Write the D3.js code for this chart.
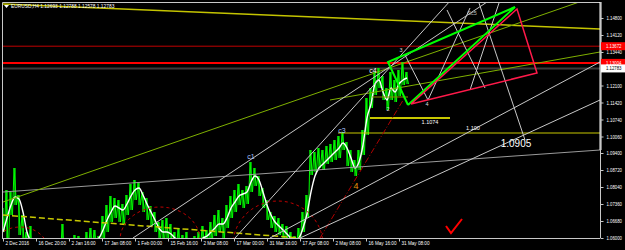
<!DOCTYPE html>
<html>
<head>
<meta charset="utf-8">
<script src="https://cdn.jsdelivr.net/npm/d3@7"></script>
<style>
  body { margin: 0; background: #000; }
  svg { display: block; font-family: "Liberation Sans", Arial, sans-serif; }
</style>
</head>
<body>
<svg id="chart" width="625" height="250"></svg>
<script>
// samples are taken every 8 H4 bars
const step = 8;
const highs = [1.0720,1.0792,1.0784,1.0880,1.0772,1.0692,1.0624,1.0648,1.0592,1.0560,
  1.0552,1.0544,1.0560,1.0552,1.0584,1.0656,1.0600,1.0572,1.0612,1.0608,
  1.0592,1.0624,1.0640,1.0632,1.0608,1.0688,1.0732,1.0768,1.0760,1.0752,
  1.0736,1.0772,1.0816,1.0832,1.0824,1.0784,1.0760,1.0728,1.0704,1.0664,
  1.0672,1.0680,1.0656,1.0624,1.0640,1.0612,1.0624,1.0600,1.0608,1.0624,
  1.0648,1.0632,1.0664,1.0692,1.0712,1.0680,1.0732,1.0768,1.0792,1.0816,
  1.0792,1.0808,1.0904,1.0880,1.0848,1.0800,1.0752,1.0704,1.0688,1.0680,
  1.0656,1.0648,1.0624,1.0608,1.0640,1.0704,1.0772,1.0952,1.0944,1.0960,
  1.0952,1.0968,1.0976,1.0992,1.1008,1.1024,1.0984,1.0952,1.0912,1.0952,
  1.1032,1.1160,1.1200,1.1264,1.1280,1.1248,1.1200,1.1264,1.1232,1.1272,
  1.1304,1.1264];
const lows = [1.0624,1.0530,1.0692,1.0732,1.0612,1.0572,1.0472,1.0504,1.0492,1.0472,
  1.0452,1.0464,1.0472,1.0452,1.0492,1.0532,1.0504,1.0472,1.0512,1.0520,
  1.0520,1.0544,1.0560,1.0568,1.0560,1.0592,1.0624,1.0664,1.0680,1.0664,
  1.0652,1.0692,1.0712,1.0752,1.0732,1.0704,1.0672,1.0648,1.0624,1.0592,
  1.0584,1.0600,1.0576,1.0552,1.0560,1.0532,1.0536,1.0520,1.0528,1.0544,
  1.0572,1.0560,1.0592,1.0608,1.0624,1.0600,1.0640,1.0680,1.0704,1.0732,
  1.0720,1.0736,1.0784,1.0808,1.0768,1.0720,1.0672,1.0640,1.0624,1.0612,
  1.0592,1.0576,1.0560,1.0544,1.0576,1.0624,1.0680,1.0852,1.0864,1.0880,
  1.0872,1.0896,1.0904,1.0912,1.0920,1.0952,1.0888,1.0864,1.0848,1.0872,
  1.0932,1.1012,1.1120,1.1172,1.1200,1.1152,1.1112,1.1152,1.1144,1.1168,
  1.1212,1.1216];
const maLine = [1.0624,1.0680,1.0732,1.0764,1.0756,1.0704,1.0624,1.0584,1.0552,1.0528,
  1.0512,1.0504,1.0504,1.0512,1.0532,1.0560,1.0568,1.0552,1.0552,1.0560,
  1.0564,1.0572,1.0584,1.0592,1.0600,1.0632,1.0672,1.0704,1.0728,1.0720,
  1.0712,1.0736,1.0768,1.0792,1.0800,1.0772,1.0736,1.0704,1.0672,1.0640,
  1.0624,1.0624,1.0616,1.0600,1.0592,1.0584,1.0576,1.0568,1.0572,1.0584,
  1.0600,1.0608,1.0624,1.0640,1.0656,1.0656,1.0680,1.0720,1.0744,1.0768,
  1.0776,1.0784,1.0824,1.0848,1.0832,1.0784,1.0732,1.0692,1.0664,1.0648,
  1.0632,1.0616,1.0600,1.0592,1.0600,1.0640,1.0696,1.0784,1.0848,1.0880,
  1.0896,1.0912,1.0928,1.0944,1.0960,1.0980,1.0960,1.0920,1.0880,1.0904,
  1.0972,1.1080,1.1136,1.1216,1.1232,1.1184,1.1152,1.1200,1.1184,1.1216,
  1.1232,1.1240];

const dateTicks = [0,66,132,198,264,330,396,462,528,594,660,726,792];
const dateLabels = ["2 Dec 2016","16 Dec 20:00","2 Jan 16:00","17 Jan 08:00","1 Feb 00:00",
  "15 Feb 16:00","2 Mar 08:00","17 Mar 00:00","31 Mar 16:00","17 Apr 08:00",
  "2 May 08:00","16 May 16:00","31 May 08:00"];
const priceTicks = [1.148,1.1412,1.1344,1.121,1.1142,1.1074,1.1006,1.094,1.0872,1.0804,1.0736,1.0668,1.06];

const redLevels = [1.13672, 1.13004];
const bidLevel = 1.12783;
const title = "EURUSD,H4  1.12693 1.12788 1.12578 1.12783";

// chart objects, endpoints as [bar, price]
const yellowTop = [[0,1.1536],[1194,1.1436]];
const yellowDashed = [[0,1.0692],[594,1.0600]];
const yellowLevels = [[[670,1.1020],[1194,1.1020]], [[734,1.1080],[894,1.1080]]];
const oliveLevel = [[738,1.1164],[810,1.1164]];
const redDiag = [[634,1.0600],[804,1.1164]];
const redArcs = [[34,1.0552,56,0.0092],[314,1.0592,80,0.0132],[550,1.0572,90,0.0176]];
const greenBox = [[810,1.1132],[770,1.1304],[1024,1.1524],[810,1.1132]];
const redBox = [[816,1.1136],[1028,1.1516],[1068,1.1260],[816,1.1136]];
const olivegreenLines = [[[0,1.0744],[1164,1.1552]], [[654,1.1152],[1194,1.1344]]];
const grayLines = [[[0,1.0784],[1194,1.0952]]];
const whiteLines = [
  [[260,1.0600],[974,1.1552]], [[464,1.0600],[896,1.1552]],
  [[534,1.0600],[1194,1.1304]], [[594,1.0600],[1194,1.1152]],
  [[804,1.1332],[850,1.1152]], [[850,1.1152],[934,1.1520]],
  [[888,1.1512],[964,1.1200]], [[934,1.1192],[994,1.1552]],
  [[950,1.1552],[1044,1.0992]]];
const checkMark = [[886,1.0648],[896,1.0620],[918,1.0676]];
const waveLabels = [
  {t:"c1", b:496, p:1.0924, c:"#a9c6ff", s:7},
  {t:"c3", b:678, p:1.1028, c:"#a9c6ff", s:7},
  {t:"c4", b:740, p:1.1268, c:"#ffffff", s:7},
  {t:"3", b:796, p:1.1348, c:"#dddddd", s:5.5},
  {t:"2", b:770, p:1.1112, c:"#dddddd", s:5.5},
  {t:"4", b:848, p:1.1132, c:"#dddddd", s:5.5},
  {t:"4", b:706, p:1.0804, c:"#e8900c", s:9},
  {t:"Sc5", b:938, p:1.1496, c:"#bbbbbb", s:5.5},
  {t:"1.1074", b:854, p:1.1060, c:"#ffffff", s:5.5},
  {t:"1.100", b:940, p:1.1036, c:"#ffffff", s:5.5},
  {t:"1.0905", b:1026, p:1.0976, c:"#ffffff", s:10}];

const svg = d3.select("#chart");
svg.append("rect").attr("width", 625).attr("height", 250).attr("fill", "#000");

const x = d3.scaleLinear().domain([0, 1194]).range([3, 600]);
const y = d3.scaleLinear().domain([1.06, 1.154]).range([238, 3]);
const line = d3.line().x(d => x(d[0])).y(d => y(d[1]));

svg.append("defs").append("clipPath").attr("id", "plot")
  .append("rect").attr("x", 3).attr("y", 3).attr("width", 597).attr("height", 235);
const g = svg.append("g").attr("clip-path", "url(#plot)");

// horizontal levels
g.append("path").attr("d", line([[0, redLevels[0]], [1194, redLevels[0]]]))
  .attr("stroke", "#c00000").attr("stroke-width", 1).attr("fill", "none");
g.append("path").attr("d", line([[0, bidLevel], [1194, bidLevel]]))
  .attr("stroke", "#3a3a3a").attr("stroke-width", 2).attr("fill", "none");
g.append("path").attr("d", line([[0, redLevels[1]], [1194, redLevels[1]]]))
  .attr("stroke", "#ff0000").attr("stroke-width", 2).attr("fill", "none");

// price
const bars = highs.map((h, i) => ({b: i * step, h: h, l: lows[i]}));
g.selectAll(".bar").data(bars).enter().append("line")
  .attr("x1", d => x(d.b)).attr("x2", d => x(d.b))
  .attr("y1", d => y(d.l)).attr("y2", d => y(d.h))
  .attr("stroke", "#00ff00").attr("stroke-width", 1.2);
const zig = [];
bars.forEach(d => { zig.push([d.b - 2, d.h]); zig.push([d.b + 3, d.l]); });
g.append("path").attr("d", line(zig)).attr("stroke", "#00ff00")
  .attr("stroke-width", 1).attr("fill", "none");
g.append("path").attr("d", line.curve(d3.curveMonotoneX)(maLine.map((v, i) => [i * step, v])))
  .attr("stroke", "#ffffff").attr("stroke-width", 1.4).attr("fill", "none");
line.curve(d3.curveLinear);

function draw(pts, color, w, dash) {
  const p = g.append("path").attr("d", line(pts)).attr("stroke", color)
    .attr("stroke-width", w).attr("fill", "none");
  if (dash) p.attr("stroke-dasharray", dash);
}

draw(yellowTop, "#c4c400", 1.5);
draw(yellowDashed, "#c8c800", 1.5, "6,3");
yellowLevels.forEach((s, i) => draw(s, "#c8c800", i ? 2 : 1.2));
draw(oliveLevel, "#8a8a00", 1);
draw(redDiag, "#b00000", 1, "6,2,1,2");
redArcs.forEach(a => {
  const pts = d3.range(0, 181, 6).map(t => [a[0] + a[2] * Math.cos(t * Math.PI / 180), a[1] + a[3] * Math.sin(t * Math.PI / 180)]);
  draw(pts, "#c00000", 1, "3,3");
});
grayLines.forEach(s => draw(s, "#9a9a9a", 1));
olivegreenLines.forEach(s => draw(s, "#7fb000", 1));
whiteLines.forEach(s => draw(s, "#c8c8c8", 1));
draw(greenBox, "#00ff00", 2);
draw(redBox, "#ff1a4a", 1.5);
draw(checkMark, "#ff0000", 2);

g.selectAll(".wl").data(waveLabels).enter().append("text")
  .attr("x", d => x(d.b)).attr("y", d => y(d.p))
  .attr("text-anchor", "middle").attr("dominant-baseline", "middle")
  .attr("fill", d => d.c).attr("font-size", d => d.s).text(d => d.t);

// frame
svg.append("path").attr("d", "M2.5,238V2.5H600").attr("stroke", "#c8c8c8").attr("fill", "none");
svg.append("line").attr("x1", 600.5).attr("x2", 600.5).attr("y1", 2).attr("y2", 150)
  .attr("stroke", "#ffffff").attr("stroke-width", 2);

// axes
const yAxis = svg.append("g").attr("transform", "translate(600.5,0)")
  .call(d3.axisRight(y).tickValues(priceTicks).tickSize(3).tickFormat(d => d.toFixed(5)));
yAxis.select(".domain").attr("stroke", "#c8c8c8").attr("d", "M0,2V238");
yAxis.selectAll(".tick line").attr("stroke", "#c8c8c8");
yAxis.selectAll("text").attr("fill", "#ffffff").attr("font-size", 5.5).attr("x", 6)
  .attr("textLength", 15.5).attr("lengthAdjust", "spacingAndGlyphs");

function priceTag(v, bg, fg) {
  svg.append("rect").attr("x", 601).attr("y", y(v) - 4).attr("width", 24).attr("height", 8).attr("fill", bg);
  svg.append("text").attr("x", 606).attr("y", y(v)).attr("dy", "0.35em")
    .attr("font-size", 5.5).attr("fill", fg).attr("textLength", 15.5)
    .attr("lengthAdjust", "spacingAndGlyphs").text(v.toFixed(5));
}
redLevels.forEach(v => priceTag(v, "#ff0000", "#ffffff"));
priceTag(bidLevel, "#ffffff", "#000000");

const xAxis = svg.append("g").attr("transform", "translate(0,238.5)")
  .call(d3.axisBottom(x).tickValues(dateTicks).tickSize(3).tickFormat((d, i) => dateLabels[i]));
xAxis.select(".domain").attr("stroke", "#c8c8c8").attr("d", "M2,0H600");
xAxis.selectAll(".tick line").attr("stroke", "#c8c8c8");
xAxis.selectAll("text").attr("fill", "#ffffff").attr("font-size", 5.5)
  .attr("text-anchor", "start").attr("x", 2).attr("y", 3).attr("dy", "0.71em")
  .each(function () { const w = this.getComputedTextLength(); d3.select(this).attr("textLength", w * 0.84).attr("lengthAdjust", "spacingAndGlyphs"); });

// title
svg.append("path").attr("d", "M4,5H9L6.5,8Z").attr("fill", "#ffffff");
const tt = svg.append("text").attr("x", 11).attr("y", 8).attr("font-size", 5.5)
  .attr("fill", "#ffffff").text(title);
tt.attr("textLength", tt.node().getComputedTextLength() * 0.88).attr("lengthAdjust", "spacingAndGlyphs");
</script>
</body>
</html>
